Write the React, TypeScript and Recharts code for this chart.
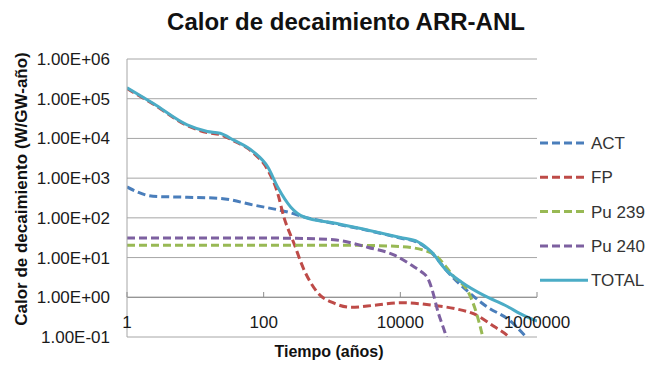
import { CartesianGrid, Line, LineChart, ReferenceLine, XAxis, YAxis } from "recharts";

const FONT = '"Liberation Sans", Arial, sans-serif';

// time axis (years) and heat axis (W/GW-año) ticks, both log scale
const X_TICKS = [1, 100, 10000, 1000000];
const Y_TICKS = [0.1, 1, 10, 100, 1000, 10000, 100000, 1000000];

const ACT_T = [1, 2.4, 7.6, 23, 71, 225, 440, 1070, 3400, 10000, 18000, 29000, 51000, 100000, 190000, 390000, 660000, 1000000];
const ACT_Q = [600, 350, 330, 310, 210, 140, 100, 72, 48, 31, 24, 13, 4.1, 1.35, 0.56, 0.27, 0.11, 0.05];

const FP_T = [1, 2.4, 7.6, 15, 23, 36, 71, 115, 160, 196, 277, 390, 620, 1070, 1900, 4200, 10000, 32000, 62000, 120000, 240000, 390000, 600000];
const FP_Q = [180000, 74000, 21000, 14000, 12500, 8800, 4300, 1600, 420, 110, 23, 4.9, 1.3, 0.71, 0.56, 0.63, 0.73, 0.62, 0.52, 0.38, 0.18, 0.1, 0.04];

const PU239_T = [1, 100, 1000, 3000, 10000, 29000, 62000, 100000, 130000, 155000, 180000];
const PU239_Q = [20.5, 20.5, 20.5, 20.2, 19, 13, 3.2, 1.3, 0.4, 0.13, 0.04];

const PU240_T = [1, 100, 300, 1070, 3400, 8200, 16000, 20000, 26000, 29000, 36000, 45000, 55000];
const PU240_Q = [31, 31, 30.5, 28, 18, 11.5, 5.8, 4.5, 2.7, 1.6, 0.4, 0.13, 0.04];

const TOTAL_T = [1, 2.4, 7.6, 15, 23, 36, 71, 115, 160, 250, 390, 1070, 3400, 10000, 18000, 29000, 45000, 79000, 170000, 340000, 660000, 1000000];
const TOTAL_Q = [190000, 77000, 22000, 15000, 13500, 9200, 4600, 1900, 600, 186, 105, 74, 49, 32, 25, 13.5, 5.2, 2.4, 1.1, 0.63, 0.34, 0.25];

const zip = (t: number[], q: number[]) => t.map((v, i) => ({ t: v, q: q[i] }));

const SERIES = [
  { name: "ACT", color: "#4a7ebb", dash: "8 4", data: zip(ACT_T, ACT_Q) },
  { name: "FP", color: "#be4b48", dash: "8 4", data: zip(FP_T, FP_Q) },
  { name: "Pu 239", color: "#98b954", dash: "8 4", data: zip(PU239_T, PU239_Q) },
  { name: "Pu 240", color: "#7d60a0", dash: "8 4", data: zip(PU240_T, PU240_Q) },
  { name: "TOTAL", color: "#4bacc6", dash: undefined, data: zip(TOTAL_T, TOTAL_Q) },
];

const sci = (v: number) => {
  const [m, e] = v.toExponential(2).split("e");
  const n = parseInt(e, 10);
  return `${m}E${n < 0 ? "-" : "+"}${String(Math.abs(n)).padStart(2, "0")}`;
};

// Excel-style: the time axis crosses at 1, so labels sit above the bottom edge
const XTick = ({ x, payload }: any) => (
  <g>
    <line x1={x} x2={x} y1={292} y2={297} stroke="#8c8c8c" />
    <text x={x} y={328} textAnchor="middle" fontSize={17} fontFamily={FONT} fill="#1a1a1a">
      {payload.value}
    </text>
  </g>
);

export default function App() {
  return (
    <div style={{ position: "absolute", left: 0, top: 0, width: 649, height: 365, background: "#fff" }}>
      <LineChart width={649} height={365} margin={{ top: 59, right: 112, bottom: 0, left: 0 }}>
        <CartesianGrid vertical={false} stroke="#a6a6a6" />
        <XAxis
          type="number"
          dataKey="t"
          scale="log"
          domain={[1, 1000000]}
          ticks={X_TICKS}
          allowDataOverflow
          height={28}
          axisLine={false}
          tickLine={false}
          tick={<XTick />}
        />
        <YAxis
          type="number"
          scale="log"
          domain={[0.1, 1000000]}
          ticks={Y_TICKS}
          allowDataOverflow
          width={127}
          axisLine={{ stroke: "#a6a6a6" }}
          tickLine={false}
          tickSize={0}
          tickMargin={17}
          tickFormatter={sci}
          tick={{ fontSize: 17, fontFamily: FONT, fill: "#1a1a1a" }}
        />
        <ReferenceLine y={1} stroke="#8c8c8c" />
        {SERIES.map((s) => (
          <Line
            key={s.name}
            data={s.data}
            dataKey="q"
            name={s.name}
            type="monotone"
            stroke={s.color}
            strokeWidth={3}
            strokeDasharray={s.dash}
            dot={false}
            isAnimationActive={false}
          />
        ))}
      </LineChart>
      <svg
        width={649}
        height={365}
        style={{ position: "absolute", left: 0, top: 0, pointerEvents: "none" }}
        fontFamily={FONT}
      >
        <text x={346} y={30} textAnchor="middle" fontSize={24} fontWeight="bold" fill="#111">
          Calor de decaimiento ARR-ANL
        </text>
        <text
          transform="translate(27,189) rotate(-90)"
          textAnchor="middle"
          fontSize={17}
          fontWeight="bold"
          fill="#111"
        >
          Calor de decaimiento (W/GW-año)
        </text>
        <text x={329} y={357} textAnchor="middle" fontSize={16} fontWeight="bold" fill="#111">
          Tiempo (años)
        </text>
        {SERIES.map((s, i) => {
          const cy = 143 + i * 34.3;
          return (
            <g key={s.name}>
              <line x1={540} x2={588} y1={cy} y2={cy} stroke={s.color} strokeWidth={3} strokeDasharray={s.dash} />
              <text x={591} y={cy + 6} fontSize={17} fill="#333">
                {s.name}
              </text>
            </g>
          );
        })}
      </svg>
    </div>
  );
}
